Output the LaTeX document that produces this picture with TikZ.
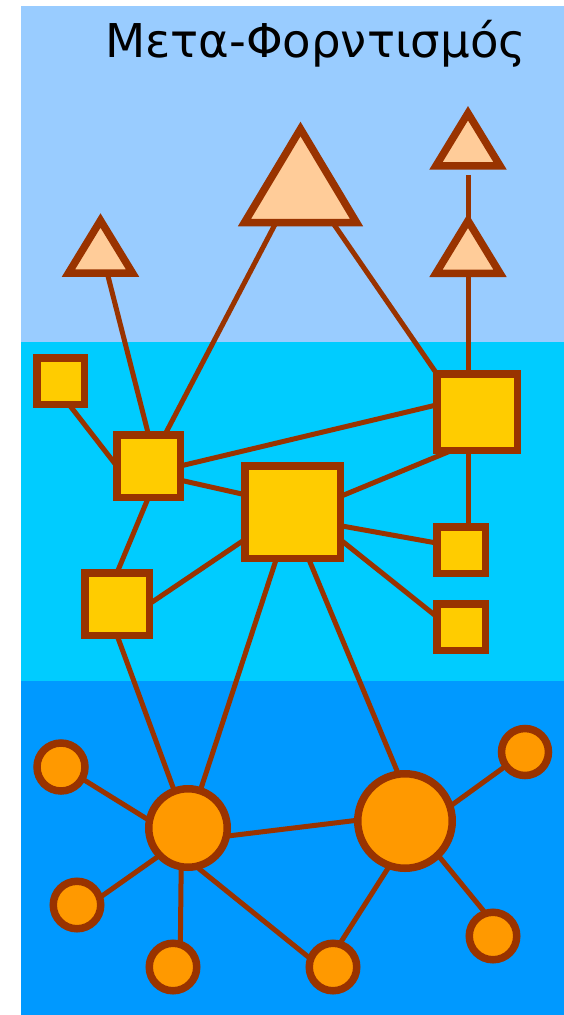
\documentclass[tikz,border=0pt]{standalone}
\usepackage{fontspec}
\newfontfamily\titlefont{DejaVu Sans}
\usetikzlibrary{calc}
\definecolor{bandA}{HTML}{99CCFF}
\definecolor{bandB}{HTML}{00CCFF}
\definecolor{bandC}{HTML}{0099FF}
\definecolor{brn}{HTML}{993300}
\definecolor{sqfill}{HTML}{FFCC00}
\definecolor{cfill}{HTML}{FF9900}
\definecolor{tfill}{HTML}{FFCC99}
\pgfdeclarelayer{bg}
\pgfdeclarelayer{links}
\pgfsetlayers{bg,links,main}
\tikzset{
  link/.style={draw=brn, line width=5pt},
  sq/.style={rectangle, draw=brn, fill=sqfill, line width=7.5pt, inner sep=0pt, outer sep=0pt},
  circ/.style={circle, draw=brn, fill=cfill, line width=7.5pt, inner sep=0pt, outer sep=0pt},
  tribox/.style={inner sep=0pt, outer sep=0pt, minimum width=64pt, minimum height=52.5pt},
  tri/.style={draw=brn, fill=tfill, line width=7.5pt, line join=miter},
}
\begin{document}
\begin{tikzpicture}[x=1pt, y=-1pt]
\useasboundingbox (0,0) rectangle (564,1015);
\begin{pgfonlayer}{bg}
  \fill[bandA] (21,6) rectangle (564,342);
  \fill[bandB] (21,342) rectangle (564,681);
  \fill[bandC] (21,681) rectangle (564,1015);
\end{pgfonlayer}

\node[anchor=base west, inner sep=0pt, font=\titlefont\fontsize{46.6}{50}\selectfont] (title) at (105,57) {Μετα-Φορντισμός};

% triangles
\node[tribox, minimum width=112pt, minimum height=93.5pt] (Tbig) at (300.5,175.75) {};
\node[tribox] (Tsmall) at (100.5,246.75) {};
\node[tribox] (Tr1) at (468,139.5) {};
\node[tribox] (Tr2) at (468,247) {};
\foreach \t in {Tbig,Tsmall,Tr1,Tr2}
  \draw[tri] (\t.north) -- (\t.south east) -- (\t.south west) -- cycle;

% squares
\node[sq, minimum width=47.5pt, minimum height=46.5pt] (S0) at (60.5,381) {};
\node[sq, minimum width=63.5pt, minimum height=62.5pt] (A) at (148.5,466) {};
\node[sq, minimum width=95.5pt, minimum height=92.5pt] (B) at (292.5,512) {};
\node[sq, minimum width=80.5pt, minimum height=76.5pt] (C) at (477,412) {};
\node[sq, minimum width=64.5pt, minimum height=62.5pt] (D) at (117,604) {};
\node[sq, minimum width=48.5pt, minimum height=46.5pt] (sq1) at (461,550) {};
\node[sq, minimum width=48.5pt, minimum height=46.5pt] (sq2) at (461,627) {};

% circles
\node[circ, minimum size=78.5pt] (CL) at (188,828) {};
\node[circ, minimum size=94.5pt] (CR) at (405,821) {};
\node[circ, minimum size=48pt] (S1) at (61,767) {};
\node[circ, minimum size=47.5pt] (S2) at (77,905) {};
\node[circ, minimum size=47.5pt] (S3) at (173,967) {};
\node[circ, minimum size=47.5pt] (S4) at (333,967) {};
\node[circ, minimum size=47.5pt] (S5) at (493,936) {};
\node[circ, minimum size=47pt] (S6) at (525,752) {};

\begin{pgfonlayer}{links}
  \draw[link] (Tsmall.center) -- (A.north);
  \draw[link] (Tbig.center) -- (A.center);
  \draw[link] (Tbig.center) -- (C.north west);
  \draw[link, shorten <=9pt] (Tr1.south) -- (Tr2.north);
  \draw[link] (Tr2.center) -- (Tr2.center |- C.north);
  \draw[link] (Tr2.center |- C.south) -- (Tr2.center |- sq1.north);
  \draw[link] ($(S0.south)!0.35!(S0.south east)$) -- (A.west);
  \draw[link] (A.east) -- (C.170);
  \draw[link] (A.-24) -- (B.160);
  \draw[link] (A.south) -- (D.north);
  \draw[link] (D.east) -- (B.210);
  \draw[link] (D.south) -- (CL.center);
  \draw[link] (B.251) -- (CL.center);
  \draw[link] (B.-71) -- (CR.98);
  \draw[link] (B.-16) -- (sq1.164);
  \draw[link] (B.-30) -- (sq2.157);
  \draw[link] (C.237) -- (B.18);
  \draw[link] (CL.-12) -- (CR.179);
  \draw[link] (CL.169) -- (S1.-29);
  \draw[link] (CL.224) -- (S2.18);
  \draw[link] (CL.-100) -- (S3.72);
  \draw[link] (CL.-78) -- (S4.160);
  \draw[link] (CR.-109) -- (S4.74);
  \draw[link] (CR.-46) -- (S5.108);
  \draw[link] (CR.18) -- (S6.216);
\end{pgfonlayer}
\end{tikzpicture}
\end{document}
